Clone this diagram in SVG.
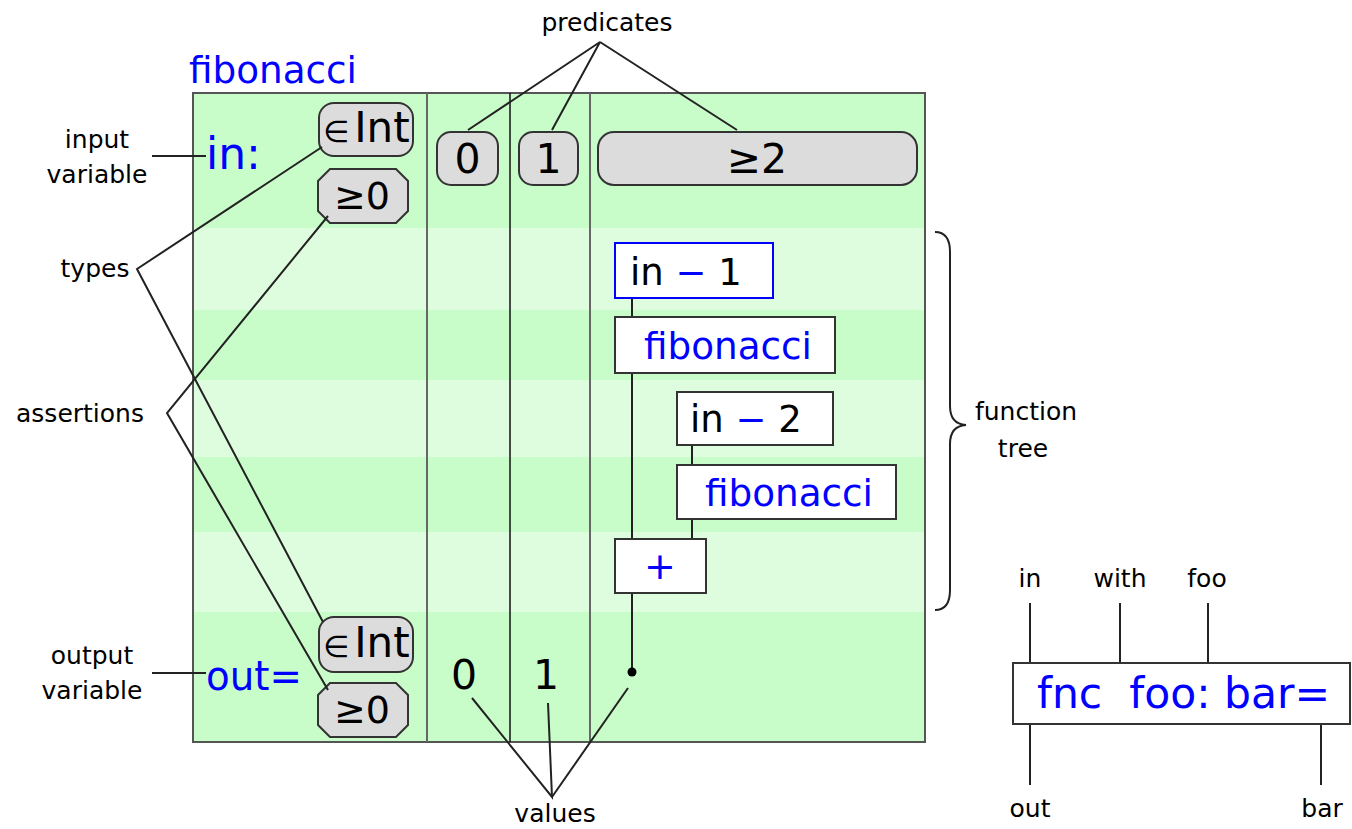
<svg xmlns="http://www.w3.org/2000/svg" width="1352" height="829" viewBox="0 0 1352 829">
<style>
.lbl{font-family:"DejaVu Sans",sans-serif;font-size:25px;fill:#000}
.big{font-family:"DejaVu Sans",sans-serif;font-size:38px;fill:#000}
.num{font-size:41px}
.blue{fill:#0000ff}
.ln{stroke:#222;stroke-width:2;fill:none}
.pred{fill:#dcdcdc;stroke:#333;stroke-width:2}
.node{fill:#fff;stroke:#333;stroke-width:2}
.dark{fill:#c8fcc8}
.light{fill:#defcde}
</style>
<rect width="1352" height="829" fill="#fff"/>
<g id="main-box">
<rect class="dark" x="193" y="93" width="732" height="135"/>
<rect class="light" x="193" y="228" width="732" height="82"/>
<rect class="dark" x="193" y="310" width="732" height="70"/>
<rect class="light" x="193" y="380" width="732" height="77"/>
<rect class="dark" x="193" y="457" width="732" height="75"/>
<rect class="light" x="193" y="532" width="732" height="80"/>
<rect class="dark" x="193" y="612" width="732" height="130"/>
<rect x="193" y="93" width="732" height="649" fill="none" stroke="#555" stroke-width="2"/>
<line x1="427" y1="93" x2="427" y2="742" stroke="#666" stroke-width="2"/>
<line x1="510" y1="93" x2="510" y2="742" stroke="#111" stroke-width="1.5"/>
<line x1="590" y1="93" x2="590" y2="742" stroke="#666" stroke-width="2"/>
</g>
<g id="title"><text class="big blue" x="189" y="83" style="font-size:38px" textLength="168" lengthAdjust="spacingAndGlyphs">fibonacci</text></g>
<g id="in-var"><text class="big blue" x="206" y="169" style="font-size:44px">in:</text></g>
<g id="out-var"><text class="big blue" x="206" y="690" style="font-size:40px" textLength="96" lengthAdjust="spacingAndGlyphs">out=</text></g>
<g id="type-in"><rect class="pred" x="319" y="103" width="94" height="53" rx="15"/><text class="big" x="323" y="142" style="font-size:42px"><tspan style="font-size:30px">∈</tspan><tspan dx="5">Int</tspan></text></g>
<g id="assert-in"><polygon class="pred" points="330,169 396,169 408,181 408,211 396,223 330,223 318,211 318,181"/><text class="big" x="362" y="209" text-anchor="middle">≥0</text></g>
<g id="type-out"><rect class="pred" x="319" y="617" width="94" height="55" rx="15"/><text class="big" x="323" y="657" style="font-size:42px"><tspan style="font-size:30px">∈</tspan><tspan dx="5">Int</tspan></text></g>
<g id="assert-out"><polygon class="pred" points="330,683 396,683 408,695 408,725 396,737 330,737 318,725 318,695"/><text class="big" x="362" y="723" text-anchor="middle">≥0</text></g>
<g id="pred-0"><rect class="pred" x="437" y="132" width="61" height="53" rx="14"/><text class="big num" x="467.5" y="173" text-anchor="middle">0</text></g>
<g id="pred-1"><rect class="pred" x="519" y="132" width="59" height="53" rx="14"/><text class="big num" x="548.5" y="173" text-anchor="middle">1</text></g>
<g id="pred-ge2"><rect class="pred" x="598" y="132" width="319" height="53" rx="16"/><text class="big num" x="757" y="173" text-anchor="middle">≥2</text></g>
<g id="val-0"><text class="big num" x="464" y="689" text-anchor="middle">0</text></g>
<g id="val-1"><text class="big num" x="546" y="689" text-anchor="middle">1</text></g>
<g id="connectors">
<line class="ln" x1="632" y1="298" x2="632" y2="317"/>
<line class="ln" x1="632" y1="373" x2="632" y2="539"/>
<line class="ln" x1="692" y1="445" x2="692" y2="465"/>
<line class="ln" x1="692" y1="519" x2="692" y2="539"/>
<line class="ln" x1="632" y1="593" x2="632" y2="672"/>
<circle cx="632" cy="672" r="4.5" fill="#000"/>
<line class="ln" x1="152" y1="156" x2="206" y2="156"/>
<line class="ln" x1="152" y1="673" x2="206" y2="673"/>
<polyline class="ln" points="322,147 137,269 323,622"/>
<polyline class="ln" points="328,216 167,413 328,690"/>
<polyline class="ln" points="468,130 600,42 552,130"/>
<line class="ln" x1="600" y1="42" x2="737" y2="130"/>
<polyline class="ln" points="472,698 552,797 548,703"/>
<line class="ln" x1="552" y1="797" x2="628" y2="688"/>
<path class="ln" d="M935,232 Q950,232 950,252 L950,406 Q950,424 966,425 Q950,426 950,444 L950,590 Q950,610 935,610"/>
<line class="ln" x1="1030" y1="603" x2="1030" y2="663"/>
<line class="ln" x1="1120" y1="603" x2="1120" y2="663"/>
<line class="ln" x1="1208" y1="603" x2="1208" y2="663"/>
<line class="ln" x1="1030" y1="724" x2="1030" y2="785"/>
<line class="ln" x1="1321" y1="724" x2="1321" y2="785"/>
</g>
<g id="in-minus-1"><rect x="615" y="243" width="158" height="55" fill="#fff" stroke="#0000ff" stroke-width="2"/><text class="big" x="630" y="285" style="font-size:37px">in <tspan class="blue">−</tspan> 1</text></g>
<g id="fib-1"><rect class="node" x="615" y="317" width="220" height="56"/><text class="big blue" x="644" y="359" style="font-size:38px" textLength="168" lengthAdjust="spacingAndGlyphs">fibonacci</text></g>
<g id="in-minus-2"><rect class="node" x="677" y="392" width="156" height="53"/><text class="big" x="690" y="432" style="font-size:37px">in <tspan class="blue">−</tspan> 2</text></g>
<g id="fib-2"><rect class="node" x="677" y="465" width="219" height="54"/><text class="big blue" x="705" y="506" style="font-size:38px" textLength="168" lengthAdjust="spacingAndGlyphs">fibonacci</text></g>
<g id="plus"><rect class="node" x="615" y="539" width="91" height="54"/><text class="big blue" x="660" y="579" text-anchor="middle">+</text></g>
<g id="fnc-node"><rect class="node" x="1013" y="663" width="337" height="61"/><text class="big blue" x="1037" y="708" style="font-size:42px;white-space:pre" xml:space="preserve" textLength="293" lengthAdjust="spacingAndGlyphs">fnc  foo: bar=</text></g>
<g id="labels">
<text class="lbl" x="607" y="31" text-anchor="middle">predicates</text>
<text class="lbl" x="97" y="148" text-anchor="middle">input</text>
<text class="lbl" x="97" y="183" text-anchor="middle">variable</text>
<text class="lbl" x="95" y="277" text-anchor="middle">types</text>
<text class="lbl" x="80" y="422" text-anchor="middle">assertions</text>
<text class="lbl" x="92" y="664" text-anchor="middle">output</text>
<text class="lbl" x="92" y="699" text-anchor="middle">variable</text>
<text class="lbl" x="555" y="822" text-anchor="middle">values</text>
<text class="lbl" x="1026" y="420" text-anchor="middle">function</text>
<text class="lbl" x="1023" y="457" text-anchor="middle">tree</text>
<text class="lbl" x="1030" y="587" text-anchor="middle">in</text>
<text class="lbl" x="1120" y="587" text-anchor="middle">with</text>
<text class="lbl" x="1207" y="587" text-anchor="middle">foo</text>
<text class="lbl" x="1030" y="817" text-anchor="middle">out</text>
<text class="lbl" x="1322" y="817" text-anchor="middle">bar</text>
</g>
</svg>
